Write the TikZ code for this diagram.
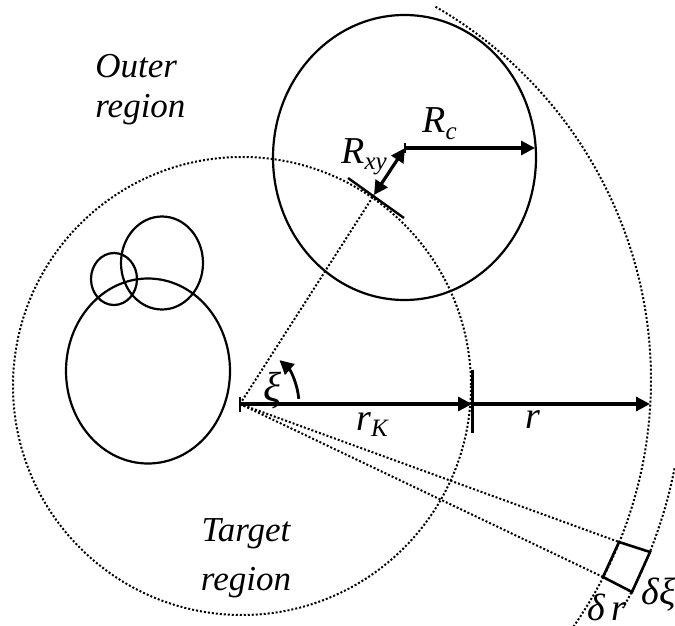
\documentclass[tikz,border=0pt]{standalone}
\usepackage{fontspec}
\setmainfont{Liberation Serif}
\usetikzlibrary{arrows.meta}
\newcommand\lowsub[1]{\raisebox{-0.35ex}{\fontsize{12.5}{13}\selectfont\itshape #1}}

\begin{document}
\begin{tikzpicture}[x=0.5pt,y=-0.5pt,>={Triangle[length=7pt,width=7pt]},ring/.style={line width=1.1pt},dots/.style={line width=1pt,dash pattern=on 1pt off 1pt},arr/.style={->,line width=1.6pt},tick/.style={line width=1.2pt},lbl/.style={inner sep=0pt,anchor=base west,font=\fontsize{19}{22}\selectfont\itshape},region/.style={inner sep=0pt,font=\fontsize{17.5}{20}\selectfont\itshape}]
\useasboundingbox (0,0) rectangle (675,626);
\coordinate (O) at (240,404);
\coordinate (Tc) at (242,386);
\coordinate (Oc) at (220,380);
\coordinate (K) at (472,404);
\coordinate (rend) at (650,404);
\coordinate (Cc) at (405,148);
\coordinate (rim) at (535,148);
\coordinate (T) at (374,195);
\coordinate (tanA) at (348,178);
\coordinate (tanB) at (404,218);
\coordinate (sqA) at (619,542);
\coordinate (sqB) at (650,552);
\coordinate (sqC) at (632,592);
\coordinate (sqD) at (603,577);
% bodies
\draw[ring] (148,371) ellipse [x radius=82,y radius=92.5];
\draw[ring] (162,263) ellipse [x radius=41,y radius=46.5];
\draw[ring] (114,279) ellipse [x radius=23,y radius=26];
\draw[ring] (404.5,157.5) ellipse [x radius=131.5,y radius=142.5];
% regions
\draw[dots] (Tc) circle [radius=229];
\draw[dots] (Oc) ++(-60:431) arc [start angle=-60,end angle=35,radius=431];
\draw[dots] (Oc) ++(11:463) arc [start angle=11,end angle=29.5,radius=463];
\draw[dots] (O) -- (T);
\draw[dots] (O) -- (sqA);
\draw[dots] (O) -- (sqD);
\draw[ring,line width=1.3pt] (sqA) -- (sqB) -- (sqC) -- (sqD) -- cycle;
\draw[ring,line width=1.2pt] (tanA) -- (tanB);
% arrows
\draw[tick] (240,397) -- (240,412);
\draw[tick,line width=1.5pt] (472,370) -- (472,433);
\draw[tick,line width=0.8pt] (405,143) -- (405,153);
\draw[arr] (O) -- (K);
\draw[arr] (K) -- (rend);
\draw[arr] (Cc) -- (rim);
\draw[arr,<->] (T) -- (Cc);
\draw[arr,line width=1.4pt] (O) ++(-5:59) arc [start angle=-5,end angle=-48,radius=59];
% labels
\node[region,anchor=north west,align=left] (outer) at (95,54) {Outer\\region};
\node[region,anchor=north,align=center,font=\fontsize{17.5}{24.5}\selectfont\itshape] (target) at (246,518) {Target\\region};
\node[lbl] (Rc) at (422,133) {R\lowsub{c}};
\node[lbl] (Rxy) at (341,163) {R\lowsub{xy}};
\node[lbl,font=\fontsize{21}{22}\selectfont\itshape] (xi) at (263,401) {ξ};
\node[lbl] (rK) at (356,430) {r\lowsub{K}};
\node[lbl] (r) at (525,428) {r};
\node[lbl] (dr) at (587,620) {δ\,r};
\node[lbl] (dxi) at (641,604) {δξ};
\end{tikzpicture}
\end{document}
